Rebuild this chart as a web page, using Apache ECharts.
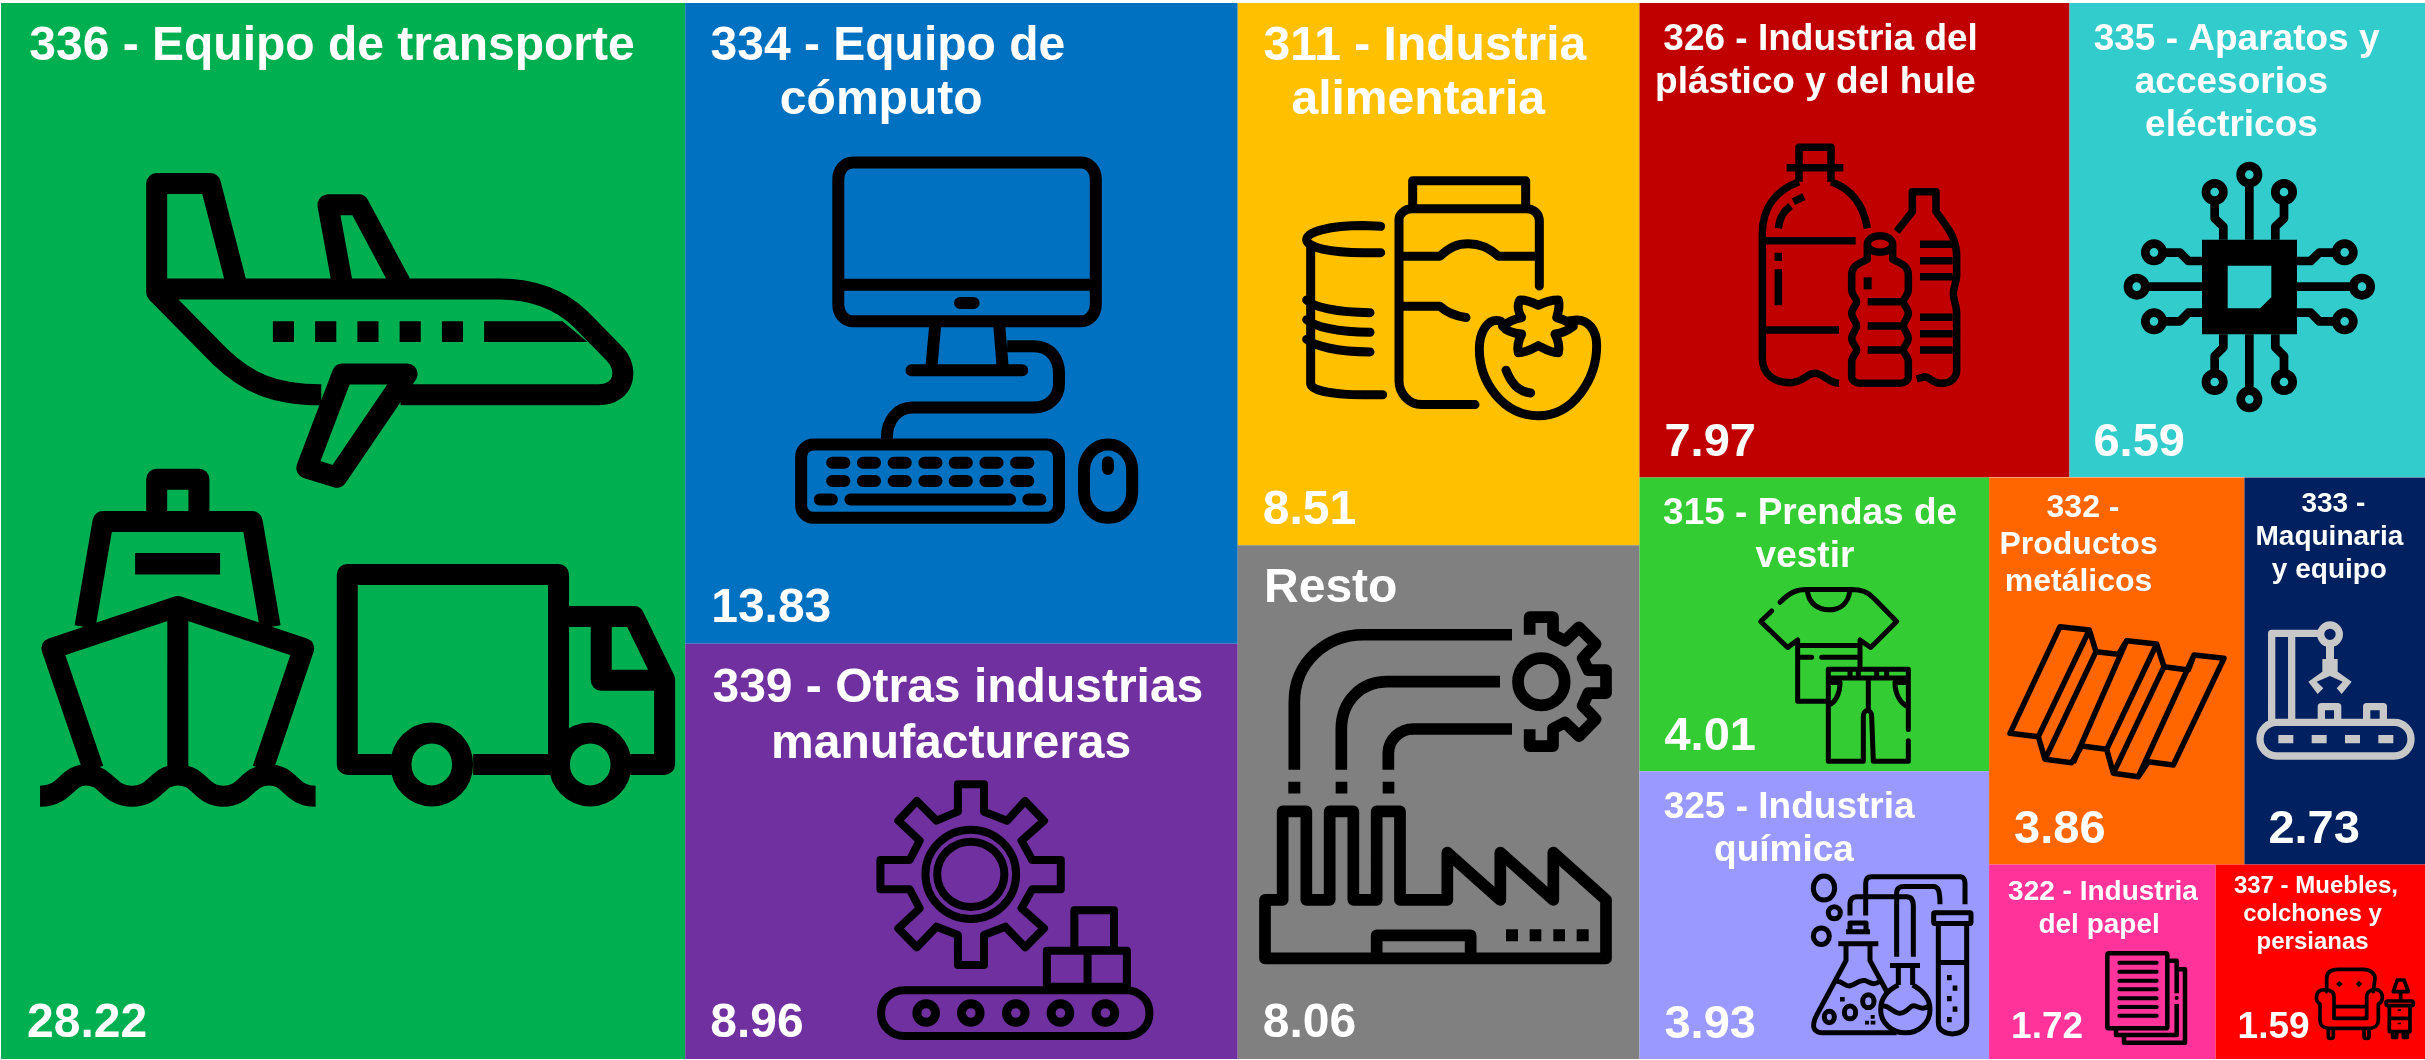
<!DOCTYPE html>
<html><head><meta charset="utf-8">
<style>html,body{margin:0;padding:0;background:#fff}#c{width:2425px;height:1060px}</style>
<script src="https://cdn.jsdelivr.net/npm/echarts@6/dist/echarts.min.js"></script>
</head><body><div id="c"></div>
<script>
// ---- data
const categories = ['336 - Equipo de transporte','334 - Equipo de\ncómputo','339 - Otras industrias\nmanufactureras','311 - Industria\nalimentaria','Resto','326 - Industria del\nplástico y del hule','335 - Aparatos y\naccesorios\neléctricos','315 - Prendas de\nvestir','325 - Industria\nquímica','332 -\nProductos\nmetálicos','333 -\nMaquinaria\ny equipo','322 - Industria\ndel papel','337 - Muebles,\ncolchones y\npersianas'];
const values = [28.22,13.83,8.96,8.51,8.06,7.97,6.59,4.01,3.93,3.86,2.73,1.72,1.59];
const colors = ['#00AF50','#0070C0','#7030A0','#FFC000','#808080','#C00000','#33CCCC','#33CC33','#9999FF','#FF6600','#002060','#FF3399','#FF0000'];
// ---- label styling, one row per tile: [title size, line height, title centre x, title top]
const titleFmt = [[48,54,331,17],[48,54,196,17],[48,56,266,17],[48,54,180.5,17],[48,54,93,16],[37,43,176,15],[37,43,162,15],[37,43,165.5,15],[37,43,144.5,15],[32,37,89.5,12],[28,33,85,10],[28,33,110,11],[24,28,97,8]];
const valueSize = [48,48,48,48,48,47,47,47,47,47,47,37,37];
const valueDx = [26,26,25,25,25,25,24,25,25,25,24,22,22];

// ---- icon drawing helpers
const kappa = 0.5523;
function E(cx,cy,rx,ry){const a=rx*kappa,b=ry*kappa;return `M${cx-rx},${cy} C${cx-rx},${cy-b} ${cx-a},${cy-ry} ${cx},${cy-ry} C${cx+a},${cy-ry} ${cx+rx},${cy-b} ${cx+rx},${cy} C${cx+rx},${cy+b} ${cx+a},${cy+ry} ${cx},${cy+ry} C${cx-a},${cy+ry} ${cx-rx},${cy+b} ${cx-rx},${cy} Z `;}
function RR(x,y,w,h,rx,ry){ry=ry==null?rx:ry;const a=rx*(1-kappa),b=ry*(1-kappa),r=x+w,t=y+h;return `M${x+rx},${y} L${r-rx},${y} C${r-a},${y} ${r},${y+b} ${r},${y+ry} L${r},${t-ry} C${r},${t-b} ${r-a},${t} ${r-rx},${t} L${x+rx},${t} C${x+a},${t} ${x},${t-b} ${x},${t-ry} L${x},${y+ry} C${x},${y+b} ${x+a},${y} ${x+rx},${y} Z `;}
function R(x,y,w,h){return `M${x},${y} L${x+w},${y} L${x+w},${y+h} L${x},${y+h} Z `;}
function tr(d,f){let i=0;return d.replace(/-?\d+(\.\d+)?/g,m=>{const v=+m;const o=(i++%2===0)?f[0]+v/f[2]:f[1]+v/f[3];return o.toFixed(2);});}
const graphics=[];let sid=0;
function add(d,f,st){const id='ico'+(sid++);echarts.graphic.registerShape(id,echarts.graphic.extendPath(tr(d,f),{}));graphics.push({type:id,shape:{},silent:true,z:100,style:st});}
function S(f,lw,d,cap,color){add(d,f,{fill:'none',stroke:color||'#000',lineWidth:lw,lineJoin:'round',lineCap:cap||'butt'});}
function Fl(f,d,color){add(d,f,{fill:color||'#000'});}

const F1=[0,0,2.272,2.958],F2=[0,450,2.272,2.57],F3=[684,0,2.8,2.412],F4=[684,630,2.8,3],F5=[1230,0,3,2.85],F6=[1230,530,3,2.96],F7=[1630,0,3,3],F8=[1630,470,3,2.66],F9=[2060,0,3,3],F10=[1970,470,3,3],F11=[1980,850,3,3];

// plane
S(F1,21,'M540,855 L478,543 L356,543 L356,855 M780,855 L745,606 L815,606 L917,855');
S(F1,21,'M356,855 L1135,855 C1220,855 1280,895 1320,945 L1395,1045 C1430,1090 1420,1168 1360,1168 L910,1168 M730,1168 C620,1168 560,1130 500,1055 L356,865 L356,855');
S(F1,21,'M778,1106 L925,1106 L765,1412 L697,1384 Z');
Fl(F1,R(620,950,48,62)+R(716,950,48,62)+R(812,950,48,62)+R(908,950,48,62)+R(1004,950,48,62)+'M1100,950 L1278,950 L1335,1012 L1100,1012 Z');
// ship
S(F2,21,'M356,184 L356,75 L452,75 L452,184 M193,455 L234,184 L573,184 L614,455 M212,820 L118,510 L404,402 L690,510 L597,820 M404,402 L404,835');
S(F2,21,'M91,890 C150,890 150,835 195,835 C245,835 245,890 300,890 C355,890 355,835 404,835 C455,835 455,890 508,890 C560,890 560,835 612,835 C660,835 660,890 717,890');
Fl(F2,R(307,265,193,55));
// truck
S(F2,21,'M890,808 L789,808 L789,320 L1269,320 L1269,808 M1075,808 L1250,808 M1269,428 L1440,428 L1510,590 L1510,808 L1432,808 M1366,428 L1366,592 L1510,592');
S(F2,21,E(981,808,70,81)+E(1341,808,70,81));
// computer
S(F3,12,RR(432,392,721,383,40,40)+'M432,687 L1153,687 M704,778 L692,893 M882,778 L893,893 M905,835 L980,835 C1030,835 1050,870 1050,900 L1050,925 C1050,960 1020,983 980,983 L640,983 C600,983 568,1010 568,1058');
S(F3,12,RR(328,1072,722,177,35,30)+RR(1120,1072,135,177,67,62));
S(F3,12,'M773,731 L811,731 M637,893 L947,893 M1187,1115 L1187,1131 '+[415,501,587,673,758,844,930].map(x=>`M${x},1116 L${x+34},1116 M${x},1160 L${x+34},1160 `).join('')+'M380,1205 L414,1205 M466,1205 L913,1205 M964,1205 L998,1205','round');
// gear + conveyor
S(F4,8,'M767,463 L840,463 L840,545 L905,572 L955,513 L1008,572 L945,632 L975,690 L1055,690 L1055,778 L975,778 L945,835 L1008,895 L955,952 L900,890 L840,915 L840,1005 L767,1005 L767,915 L707,890 L652,952 L600,895 L660,835 L632,778 L550,778 L550,690 L632,690 L660,632 L600,572 L652,513 L707,572 L767,545 Z');
S(F4,8,E(803,733,127,134)+E(803,733,94,98)+R(1093,841,111,120)+R(1016,962,224,108)+'M1130,962 L1130,1070 '+RR(552,1081,751,137,65,65));
S(F4,9,[678,803,929,1054,1180].map(x=>E(x,1149,26,28)).join(''));
// food
S(F5,9,'M548,595 L548,515 L887,515 L887,595 M735,1153 L575,1153 C535,1153 507,1120 507,1085 L507,625 C507,610 525,595 545,595 L890,595 C912,595 928,610 928,630 L928,815 M507,730 L630,730 C660,705 680,695 715,695 C750,695 775,705 805,730 L928,730 M507,873 L630,873 C650,890 675,900 708,905','round');
S(F5,9,'M452,645 L400,643 C300,643 230,660 230,683 C230,705 300,720 400,720 L452,720 M242,700 L242,1095 C245,1115 320,1125 400,1125 L458,1125 M230,855 C250,875 320,891 420,891 M230,911 C250,930 320,947 420,947 M230,967 C250,985 320,1003 420,1003','round');
S(F5,9,'M812,915 C770,905 748,950 748,995 C748,1090 820,1185 925,1185 C1030,1185 1100,1080 1100,985 C1100,940 1075,912 1040,912 L1015,915 M925,870 C945,860 965,855 985,855 C990,870 985,890 980,905 C1000,910 1020,920 1030,930 C1010,945 995,950 975,952 C985,970 990,985 985,1005 C960,1005 945,995 925,985 C905,995 890,1005 865,1005 C860,985 865,970 875,952 C850,950 830,945 818,930 C835,915 850,910 875,905 C865,890 860,870 870,855 C890,855 905,860 925,870 Z M828,1055 C845,1095 865,1115 902,1120','round');
// factory
S(F6,11.7,'M193,710 L193,510 C193,390 290,310 400,310 L846,310 M334,710 L334,590 C334,500 400,449 470,449 L810,449 M475,710 L475,660 C475,620 510,589 550,589 L846,589');
S(F6,11.7,E(934,449,70,70)+'M899,310 L899,258 L969,258 L969,310 L1005,328 L1047,288 L1097,338 L1058,380 L1075,415 L1128,415 L1128,483 L1075,483 L1058,520 L1097,560 L1047,610 L1005,570 L969,588 L969,640 L899,640 L899,590');
S(F6,11.7,'M105,1095 L158,1095 L158,833 L229,833 L229,1095 L299,1095 L299,833 L370,833 L370,1095 L440,1095 L440,833 L510,833 L510,1095 L652,1095 L652,955 L811,1095 L811,955 L970,1095 L970,955 L1128,1095 L1128,1268 L105,1268 Z M440,1268 L440,1200 L722,1200 L722,1268');
Fl(F6,R(175,745,36,35)+R(317,745,35,35)+R(458,745,35,35)+R(828,1182,36,35)+R(899,1182,35,35)+R(970,1182,35,35)+R(1040,1182,36,35));
// bottles
S(F7,7.5,'M507,545 L507,442 L603,442 L603,545 M470,503 L640,503 M507,545 C440,570 397,620 397,700 L397,1075 C397,1120 430,1148 480,1148 C520,1148 530,1120 555,1120 C580,1120 595,1148 627,1150 M603,545 C660,565 700,610 712,685 M445,685 C450,650 460,635 482,618 M490,605 L522,590 M397,722 L677,722 M397,990 L627,990 M445,758 L445,783 M445,808 L445,916');
S(F7,7.5,E(750,732,38,25)+'M712,735 L712,778 C690,790 665,795 665,825 L665,870 C665,885 680,895 680,905 C680,915 665,925 665,940 C665,955 680,965 680,977 C680,990 665,1000 665,1015 C665,1030 680,1040 680,1050 C680,1060 665,1070 665,1085 L665,1130 C665,1140 675,1150 690,1150 L810,1150 C825,1150 835,1140 835,1130 L835,1085 C835,1070 820,1060 820,1050 C820,1040 835,1030 835,1015 C835,1000 820,990 820,977 C820,965 835,955 835,940 C835,925 820,915 820,905 C820,895 835,885 835,870 L835,825 C835,795 810,790 788,778 L788,735 M713,905 L825,905 M713,978 L825,978 M713,1050 L825,1050');
S(F7,7.5,'M800,695 L847,635 L847,575 L918,575 L918,635 C950,680 980,710 980,770 L980,825 C980,850 970,860 970,880 C970,900 980,915 980,940 L980,1110 C980,1135 960,1150 935,1150 C905,1150 900,1130 885,1130 L860,1137 M870,733 L968,733 M870,782 L968,782 M870,830 L968,830 M870,952 L968,952 M870,1001 L968,1001 M870,1050 L968,1050');
Fl(F7,R(701,832,24,36));
// chip
Fl(F9,'M426,719 L711,719 L711,1003 L426,1003 Z M503,797 L503,925 L600,925 L634,892 L634,797 Z');
S(F9,8.7,'M568,719 L568,560 M568,1003 L568,1165 M426,860 L265,860 M711,860 L872,860 M490,719 L490,680 L464,655 L464,610 M646,719 L646,680 L672,655 L672,610 M490,1003 L490,1042 L464,1068 L464,1112 M646,1003 L646,1042 L672,1068 L672,1112 M426,783 L385,783 L360,758 L318,758 M426,938 L385,938 L360,964 L318,964 M711,783 L752,783 L778,758 L820,758 M711,938 L752,938 L778,964 L820,964');
S(F9,8.7,[[568,524],[464,576],[672,576],[464,1146],[672,1146],[568,1198],[282,757],[230,860],[282,964],[854,757],[906,860],[854,964]].map(p=>E(p[0],p[1],26,26)).join(''));
// clothes
S(F8,5,'M450,352 C480,325 500,318 530,318 L665,318 C695,318 715,325 730,340 L800,403 L722,472 L690,452 L690,525 M425,375 L392,403 L473,472 L503,452 L503,615 L590,615 M532,320 C535,355 565,372 597,372 C630,372 655,355 660,320 M503,467 L690,467 M510,498 L545,498 M575,498 L685,498','round');
S(F8,5,'M835,690 L835,530 L595,530 L595,775 L700,775 L700,655 C700,635 725,635 725,655 L730,775 L835,775 L835,720 M595,553 L835,553 M660,530 L660,553 M685,530 L685,553 M740,530 L740,553 M770,530 L770,553 M715,553 L715,640 M597,565 L630,565 C630,595 615,620 597,625 M833,565 L795,565 C795,595 810,620 833,630','round');
// chemistry
S(F8,5,RR(911,1178,112,28,3)+'M925,1206 L925,1470 C925,1490 945,1500 967,1500 C990,1500 1010,1490 1010,1470 L1010,1206 M925,1310 L1010,1310');
S(F8,5,'M707,1185 L707,1100 C707,1085 715,1082 725,1082 L990,1082 C1000,1082 1005,1090 1005,1100 L1005,1155 M800,1295 L800,1125 C800,1112 810,1108 820,1108 L910,1108 C925,1108 930,1120 930,1155 M660,1185 L660,1155 C660,1140 670,1135 680,1135 L830,1135 C845,1135 850,1145 850,1160 L850,1295');
S(F8,5,E(582,1112,32,32)+E(613,1178,18,16)+E(574,1240,24,22)+E(715,1413,17,17)+E(660,1443,17,17)+E(598,1455,15,15));
S(F8,5,'M660,1228 L660,1205 L708,1205 L708,1228 M648,1228 L720,1228 M625,1260 L745,1260 M648,1260 L648,1305 L560,1450 C540,1485 555,1497 580,1497 L800,1497 M720,1260 L720,1305 L775,1395 M620,1360 C640,1360 645,1375 660,1372 C680,1368 685,1355 705,1358 C725,1365 730,1372 750,1360');
S(F8,5,'M780,1318 L870,1318 M805,1318 L805,1370 M848,1318 L848,1370 M805,1370 C770,1385 752,1405 752,1435 C752,1470 785,1497 826,1497 C868,1497 900,1470 900,1435 C900,1405 880,1385 848,1370 M757,1425 C780,1425 790,1445 810,1445 C830,1445 840,1425 850,1425 C865,1425 875,1440 897,1425');
Fl(F8,R(951,1343,14,14)+R(968,1371,14,14)+R(951,1399,14,14)+R(968,1427,14,14)+R(951,1455,14,14)+R(630,1402,14,12)+R(705,1465,12,10)+R(722,1450,12,10)+R(722,1465,14,10));
// corrugated sheet
S(F10,5.5,'M270,470 L358,480 L378,545 L445,553 L470,512 L560,522 L582,590 L655,600 L672,555 L762,565 L610,885 L535,875 L505,920 L430,910 L410,838 L335,828 L305,878 L225,868 L205,800 L120,790 Z M358,480 L205,800 M378,545 L225,868 M470,512 L310,878 M560,522 L410,838 M582,590 L430,910 M672,555 L505,920');
// machine
const grey='#C8C8C8';
S(F10,7.3,'M905,760 L905,490 L1050,490 M965,495 L965,760 '+RR(870,757,453,101,50,50)+'M1054,750 L1054,710 L1103,710 L1103,750 M1190,750 L1190,710 L1240,710 L1240,750',null,grey);
S(F10,7.3,E(1080,493,28,28),null,grey);
Fl(F10,R(1068,515,24,55)+'M1057,567 L1103,567 L1103,605 L1145,635 L1115,672 L1100,655 L1118,635 L1080,618 L1040,635 L1060,655 L1043,672 L1015,635 L1057,605 Z'+R(925,795,45,25)+R(1025,795,45,25)+R(1125,795,45,25)+R(1225,795,45,25),grey);
// paper
S(F11,4.5,RR(382,310,180,225,5)+'M568,332 L590,332 L590,430 M590,462 L590,555 L408,555 L408,535 M597,358 L615,358 L615,578 L432,578 L432,558');
S(F11,4,[338,365,392,418,445,471,497].map(y=>`M418,${y} L530,${y} `).join('')+'M590,443 L590,444','round');
// armchair + side table
S(F11,3.7,'M1040,425 L1040,385 C1040,365 1055,358 1075,358 L1150,358 C1170,358 1185,370 1185,385 L1180,425 M1062,470 L1062,440 C1062,420 1040,418 1025,420 C1005,425 1005,455 1020,462 L1020,510 C1020,525 1030,535 1045,535 L1170,535 C1185,535 1195,525 1195,510 L1195,462 C1210,455 1212,430 1195,420 C1185,415 1160,420 1160,440 L1160,470 M1062,470 L1160,470 M1062,470 L1062,505 L1160,505 L1160,470 M1045,538 L1045,560 C1045,567 1060,567 1060,560 L1060,538 M1152,538 L1152,560 C1152,567 1167,567 1167,560 L1167,538','round');
S(F11,3.7,RR(1218,453,82,14,5)+'M1228,467 L1228,545 L1290,545 L1290,467 M1228,505 L1290,505 M1238,545 L1238,562 L1250,562 L1250,545 M1270,545 L1270,562 L1282,562 L1282,545 M1252,390 L1272,390 L1285,425 L1240,425 Z M1262,425 L1262,453','round');
Fl(F11,'M1078,392 L1088,402 L1078,412 L1068,402 Z M1137,392 L1147,402 L1137,412 L1127,402 Z'+R(1253,478,10,5)+R(1253,518,10,5));

// ---- chart
const box={left:1,top:3,width:2424,height:1056,roam:false,nodeClick:false,silent:true,breadcrumb:{show:false},squareRatio:1,sort:false,visibleMin:0,itemStyle:{borderWidth:0,gapWidth:0},emphasis:{disabled:true},animation:false};
const font={fontFamily:'"Liberation Sans",Arial,sans-serif',fontWeight:'bold',color:'#fff',overflow:'none',padding:0};
const titleLeaf=i=>({name:categories[i],value:values[i],itemStyle:{color:colors[i]},
  label:{show:true,formatter:categories[i].includes('\n')?' {b}':'{b}',fontSize:titleFmt[i][0],lineHeight:titleFmt[i][1],position:[titleFmt[i][2],titleFmt[i][3]],align:'center',verticalAlign:'top'}});
const valueLeaf=i=>({name:categories[i],value:values[i],itemStyle:{color:'rgba(0,0,0,0)'},
  label:{show:true,formatter:'{c}',fontSize:valueSize[i],lineHeight:valueSize[i],position:[valueDx[i],'100%'],offset:[0,-(18+0.85*valueSize[i])],align:'left',verticalAlign:'top'}});
// the last four tiles sit in two nested groups, which gives the reference's arrangement
function tree(leaf){
  const top=[0,1,2,3,4,5,6,7,8].map(leaf);
  const group=(a,b)=>({name:'',value:values[a]+values[b],label:{show:false},children:[leaf(a),leaf(b)]});
  return top.concat([group(9,10),group(11,12)]);
}
const chart=echarts.init(document.getElementById('c'),null,{renderer:'canvas'});
chart.setOption({animation:false,tooltip:{show:false},
  graphic:{elements:graphics},
  series:[Object.assign({type:'treemap',name:'titulos',label:font,data:tree(titleLeaf)},box),
          Object.assign({type:'treemap',name:'valores',label:font,data:tree(valueLeaf)},box)]});
</script></body></html>
